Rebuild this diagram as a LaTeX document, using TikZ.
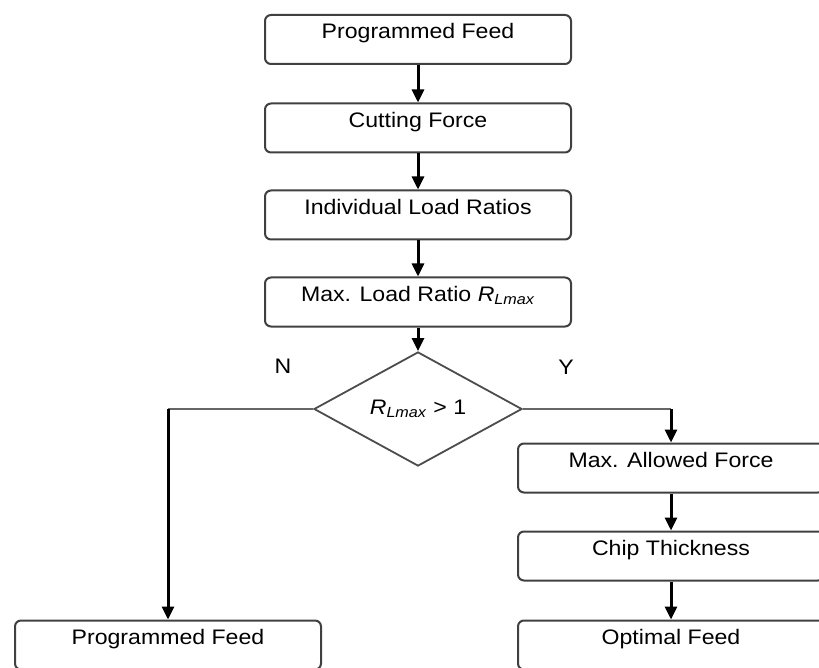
\documentclass[tikz,border=0pt]{standalone}
\usepackage{fontspec}
\setmainfont{Liberation Sans}[FakeStretch=1.1]
\usetikzlibrary{shapes.geometric,arrows.meta}

\newcommand{\rlmax}{\textit{R}\textsubscript{\textit{Lmax}}}

\tikzset{
stepbox/.style={draw=black!75, line width=2pt, rounded corners=6pt,
  minimum width=306pt, minimum height=49pt, inner sep=0pt,
  text height=15pt, text depth=16pt, font=\fontsize{21}{24}\selectfont},
decision/.style={diamond, draw=black!70, line width=1.8pt,
  minimum width=208pt, minimum height=86pt, inner sep=0pt,
  font=\fontsize{21}{24}\selectfont},
flow/.style={line width=3pt, -{Triangle[length=13pt,width=12pt]}},
branch/.style={draw=black!60, line width=2pt},
answer/.style={font=\fontsize{21}{24}\selectfont}
}

\begin{document}
\begin{tikzpicture}[x=1pt,y=-1pt]

\useasboundingbox (0,0) rectangle (819,668);
\clip (0,0) rectangle (819,668);

% Chaine principale
\node[stepbox] (feed)
at (418,39.5)
{Programmed Feed};

\node[stepbox] (force)
at (418,128)
{Cutting Force};

\node[stepbox] (ratios)
at (418,215)
{Individual Load Ratios};

\node[stepbox] (maxratio)
at (418,302)
{Max. Load Ratio \rlmax};

\node[decision] (check)
at (418,409)
{\rlmax{} > 1};

\draw[flow] (feed) -- (force);
\draw[flow] (force) -- (ratios);
\draw[flow] (ratios) -- (maxratio);
\draw[flow] (maxratio) -- (check);

% Branche N
\node[answer] (no)
at (283,366)
{N};

\node[stepbox] (keepfeed)
at (168,645)
{Programmed Feed};

\coordinate (turnN) at (check.west -| keepfeed.north);
\draw[branch] (check.west) -- (turnN);
\draw[flow] (turnN) -- (keepfeed);

% Branche Y
\node[answer] (yes)
at (566,367)
{Y};

\node[stepbox] (allowed)
at (671,468)
{Max. Allowed Force};

\node[stepbox] (chip)
at (671,556)
{Chip Thickness};

\node[stepbox] (optimal)
at (671,645)
{Optimal Feed};

\coordinate (turnY) at (check.east -| allowed.north);
\draw[branch] (check.east) -- (turnY);
\draw[flow] (turnY) -- (allowed);
\draw[flow] (allowed) -- (chip);
\draw[flow] (chip) -- (optimal);

\end{tikzpicture}
\end{document}
